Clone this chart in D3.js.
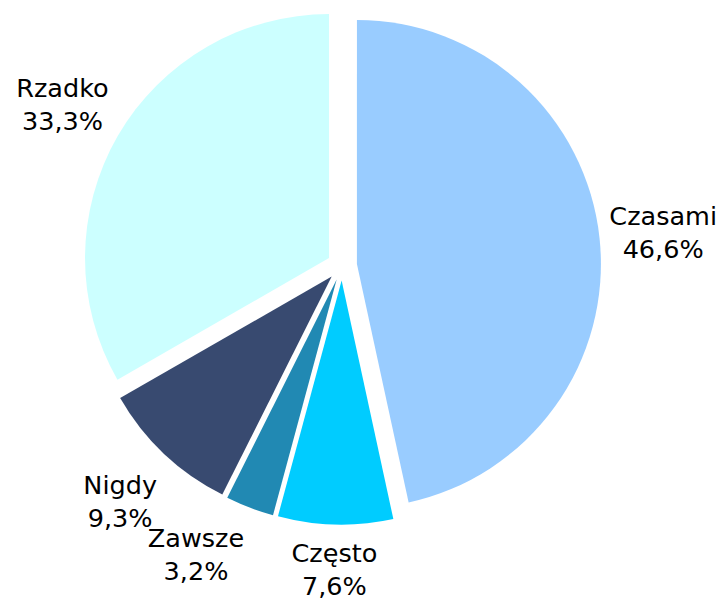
<!DOCTYPE html>
<html>
<head>
<meta charset="utf-8">
<script src="https://cdn.jsdelivr.net/npm/d3@7"></script>
<style>
  html, body { margin: 0; padding: 0; background: #ffffff; }
  svg { display: block; }
</style>
</head>
<body>
<svg id="chart" width="723" height="600"></svg>
<script>
// ---- data ----
const categories = ["Czasami", "Często", "Zawsze", "Nigdy", "Rzadko"];
const values = [46.6, 7.6, 3.2, 9.3, 33.3];
const valueLabels = ["46,6%", "7,6%", "3,2%", "9,3%", "33,3%"];
const colors = ["#99CCFF", "#00CCFF", "#2189B3", "#384A70", "#CCFFFF"];

// ---- layout ----
const W = 723, H = 600;
const cx = 342, cy = 265.6;
const radius = 244;
const explode = 15;
const labelRadius = 323;
// label nudges (Excel-style overlap avoidance)
const labelAngleNudge = {"Zawsze": 6 * Math.PI / 180};
const labelRadiusNudge = {"Często": -20};

const svg = d3.select("#chart");
const g = svg.append("g").attr("transform", `translate(${cx},${cy})`);

const data = categories.map((c, i) => ({name: c, value: values[i], label: valueLabels[i], color: colors[i]}));

const pie = d3.pie().value(d => d.value).sort(null).startAngle(0).endAngle(2 * Math.PI);
const arcs = pie(data);
const arc = d3.arc().innerRadius(0).outerRadius(radius);

const mid = a => (a.startAngle + a.endAngle) / 2;

g.selectAll("path.slice")
  .data(arcs)
  .join("path")
  .attr("class", "slice")
  .attr("d", arc)
  .attr("fill", d => d.data.color)
  .attr("transform", d => {
    const m = mid(d);
    return `translate(${explode * Math.sin(m)},${-explode * Math.cos(m)})`;
  });

g.selectAll("text.lbl")
  .data(arcs)
  .join("text")
  .attr("class", "lbl")
  .attr("font-family", "Verdana, 'DejaVu Sans', sans-serif")
  .attr("font-size", 25.5)
  .attr("fill", "#000")
  .attr("text-anchor", "middle")
  .each(function(d) {
    const m = mid(d) + (labelAngleNudge[d.data.name] || 0);
    const r = labelRadius + (labelRadiusNudge[d.data.name] || 0);
    const x = r * Math.sin(m);
    const y = -r * Math.cos(m);
    const t = d3.select(this);
    t.append("tspan").attr("x", x).attr("y", y - 6.5).text(d.data.name);
    t.append("tspan").attr("x", x).attr("y", y + 26.5).text(d.data.label);
  });
</script>
</body>
</html>
